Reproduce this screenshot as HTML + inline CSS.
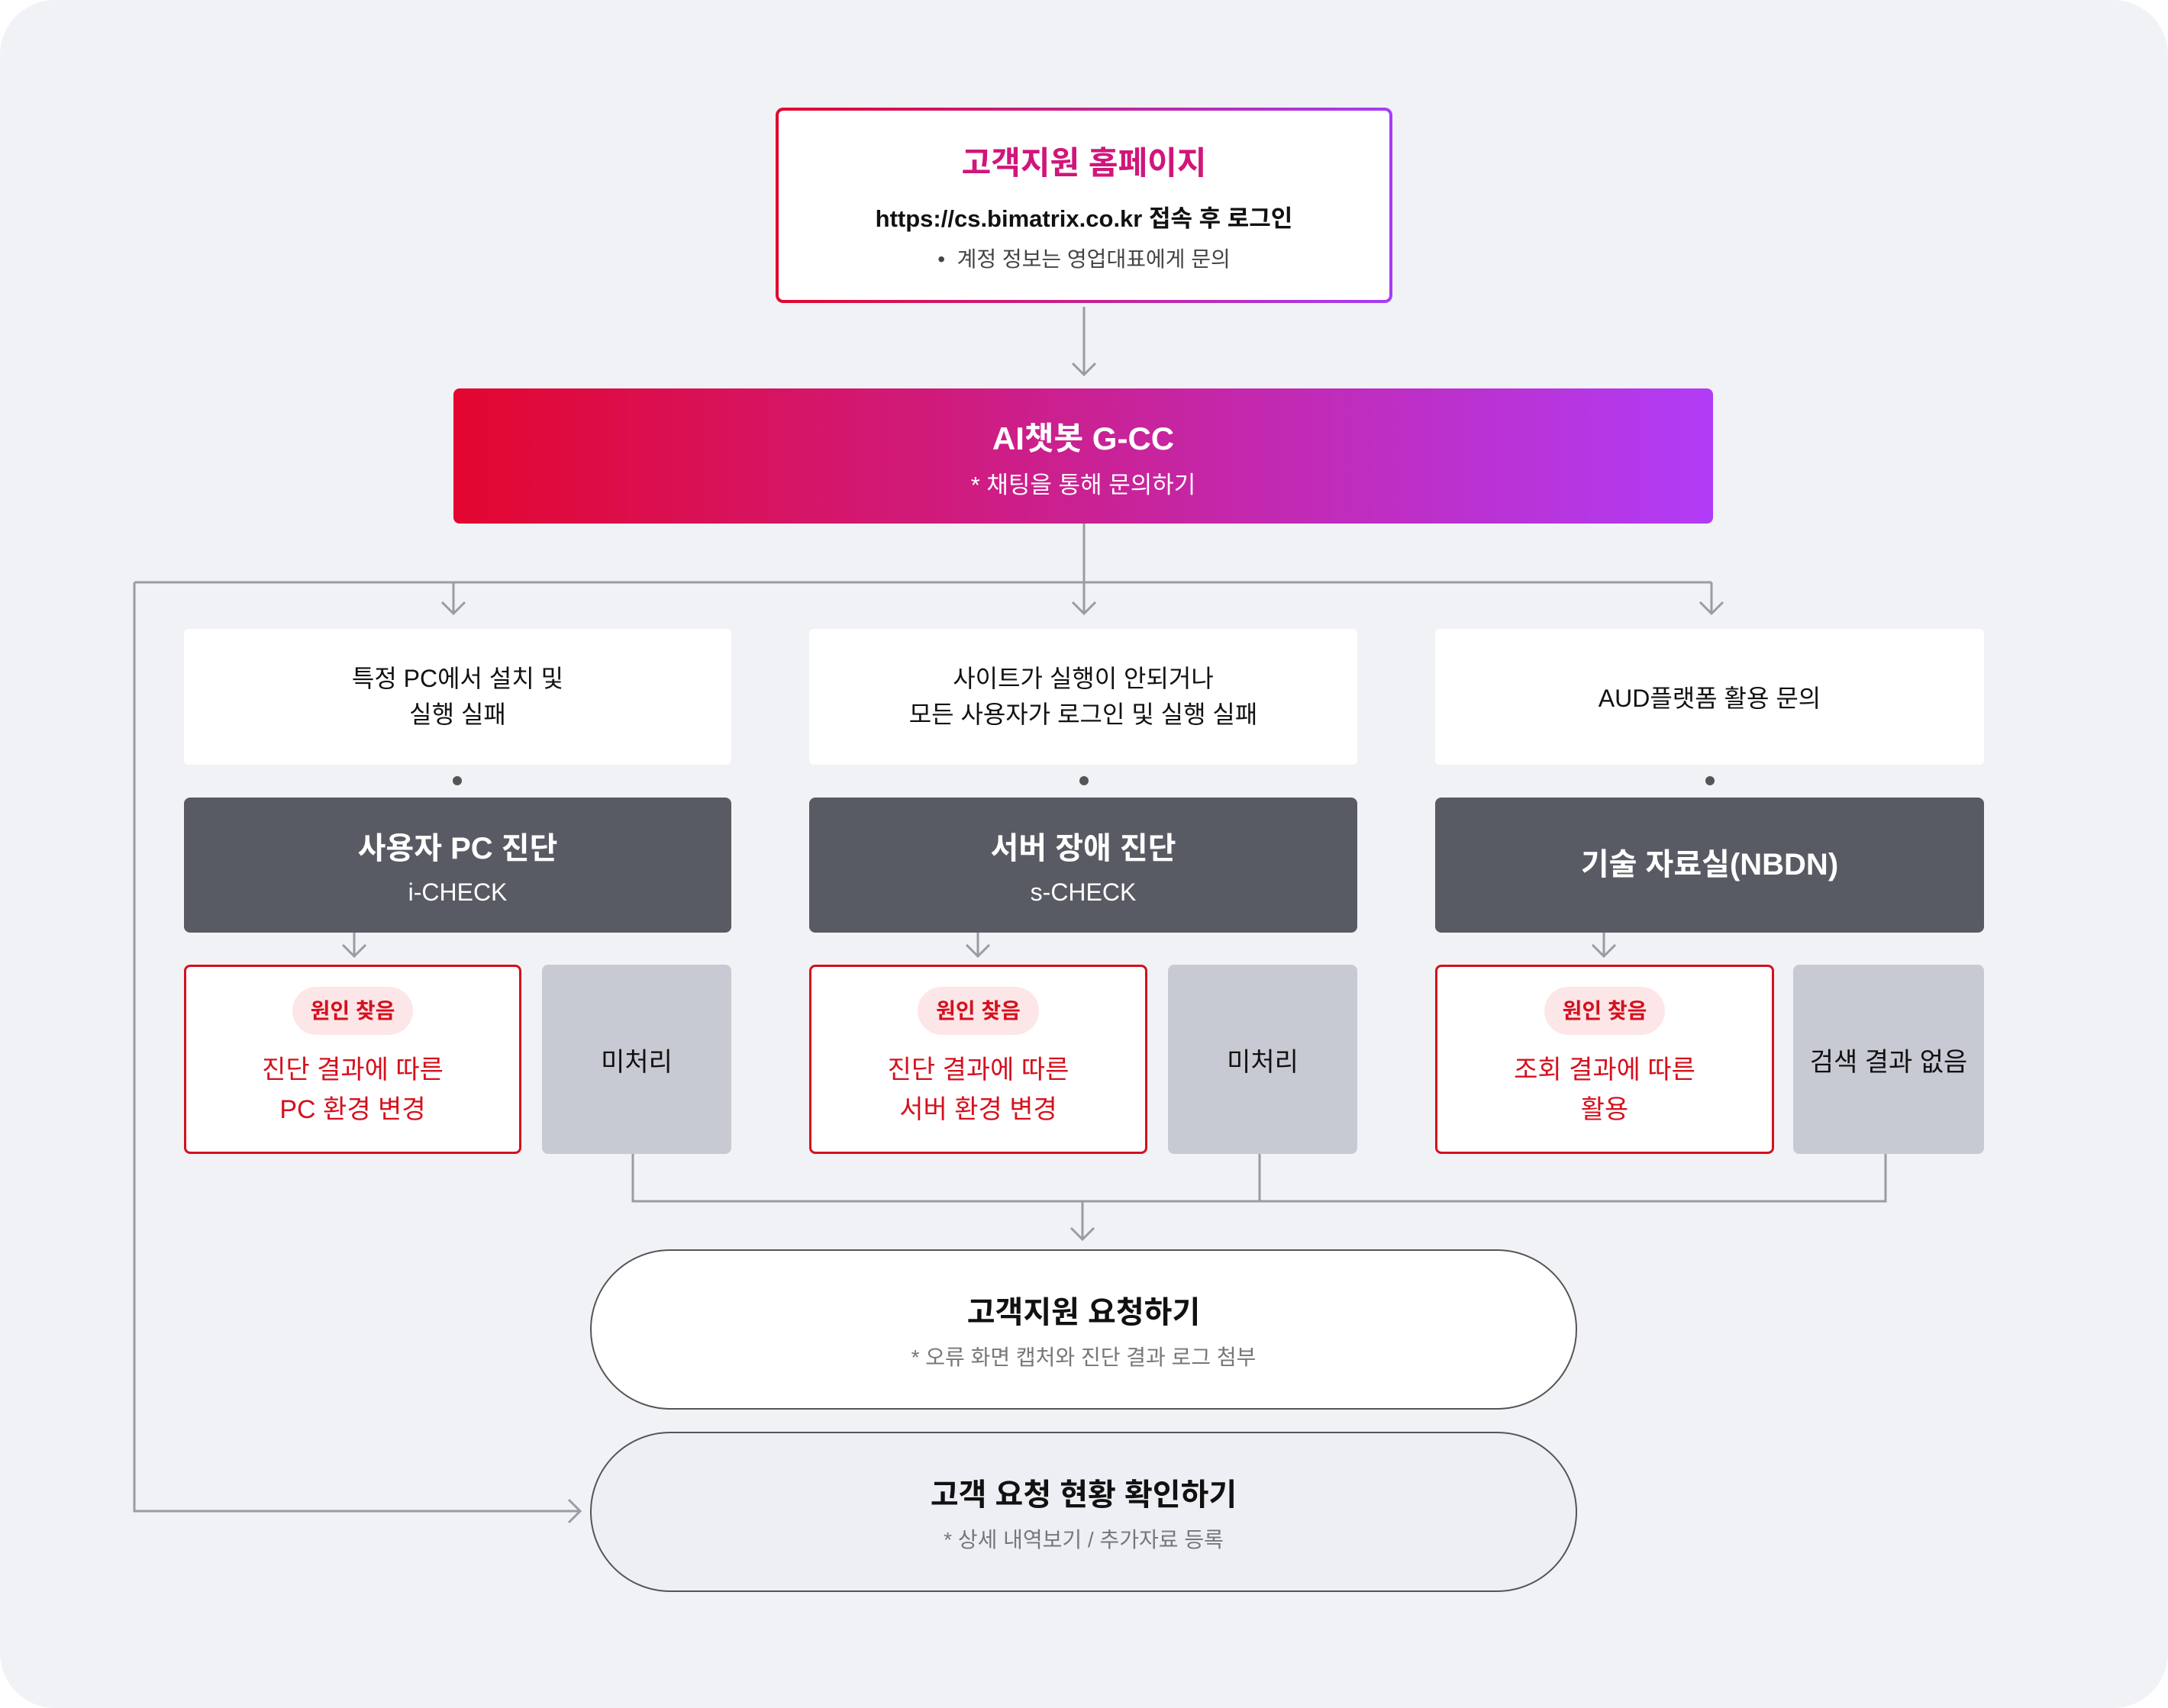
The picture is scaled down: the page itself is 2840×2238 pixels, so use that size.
<!DOCTYPE html>
<html><head><meta charset="utf-8"><style>
*{margin:0;padding:0;box-sizing:border-box}
body{width:2840px;height:2238px;background:#fff;font-family:"Liberation Sans","Noto Sans CJK KR",sans-serif;position:relative;overflow:hidden}
.bg{position:absolute;left:0;top:0;width:2840px;height:2238px;background:#f1f2f6;border-radius:72px}
.a{position:absolute;display:flex;flex-direction:column;align-items:center;justify-content:center;text-align:center}
svg{position:absolute;left:0;top:0}
</style></head><body>
<div class="bg"></div>
<svg width="2840" height="2238" fill="none" stroke="#9a9ca3" stroke-width="3">
<path d="M1420 402V491M1405 476l15 15 15-15"/>
<path d="M1420 686V804M176 763H2242M594 763V804M2242 763V804M1405 789l15 15 15-15M579 789l15 15 15-15M2227 789l15 15 15-15"/>
<path d="M176 763V1980H760M745 1965l15 15-15 15"/>
<path d="M464 1222V1253M449 1238l15 15 15-15M1281 1222V1253M1266 1238l15 15 15-15M2101 1222V1253M2086 1238l15 15 15-15"/>
<path d="M829 1512V1574H2470V1512M1650 1512V1574M1418 1574V1624M1403 1609l15 15 15-15"/>
<g fill="#555" stroke="none"><circle cx="599" cy="1023" r="6"/><circle cx="1420" cy="1023" r="6"/><circle cx="2240" cy="1023" r="6"/></g>
</svg>
<div class="a" style="left:1016px;top:141px;width:808px;height:256px;background:linear-gradient(#fff,#fff) padding-box,linear-gradient(90deg,#e3062c,#a63cf7) border-box;border:4px solid transparent;border-radius:10px">
<div style="font-size:42px;font-weight:bold;color:#d0167a;margin-top:0px">고객지원 홈페이지</div>
<div style="font-size:31px;font-weight:bold;color:#111;margin-top:20px">https://cs.bimatrix.co.kr 접속 후 로그인</div>
<div style="font-size:28px;color:#444;margin-top:12px">•&nbsp; 계정 정보는 영업대표에게 문의</div></div>
<div class="a" style="left:594px;top:509px;width:1650px;height:177px;background:linear-gradient(90deg,#e3062f,#b13cf7);border-radius:8px;color:#fff">
<div style="font-size:42px;font-weight:bold">AI챗봇 G-CC</div>
<div style="font-size:31px;margin-top:8px">* 채팅을 통해 문의하기</div></div>

<div class="a" style="left:241px;top:824px;width:717px;height:178px;background:#fff;border-radius:6px;font-size:32px;line-height:47px;color:#111">특정 PC에서 설치 및<br>실행 실패</div>
<div class="a" style="left:1060px;top:824px;width:718px;height:178px;background:#fff;border-radius:6px;font-size:32px;line-height:47px;color:#111">사이트가 실행이 안되거나<br>모든 사용자가 로그인 및 실행 실패</div>
<div class="a" style="left:1880px;top:824px;width:719px;height:178px;background:#fff;border-radius:6px;font-size:32px;color:#111">AUD플랫폼 활용 문의</div>

<div class="a" style="left:241px;top:1045px;width:717px;height:177px;background:#585b63;border-radius:8px;color:#fff"><div style="font-size:40px;font-weight:bold">사용자 PC 진단</div><div style="font-size:32px;margin-top:14px">i-CHECK</div></div>
<div class="a" style="left:1060px;top:1045px;width:718px;height:177px;background:#585b63;border-radius:8px;color:#fff"><div style="font-size:40px;font-weight:bold">서버 장애 진단</div><div style="font-size:32px;margin-top:14px">s-CHECK</div></div>
<div class="a" style="left:1880px;top:1045px;width:719px;height:177px;background:#585b63;border-radius:8px;color:#fff"><div style="font-size:40px;font-weight:bold;margin-top:-10px">기술 자료실(NBDN)</div></div>

<div class="a" style="left:241px;top:1264px;width:442px;height:248px;background:#fff;border:3px solid #d4111e;border-radius:8px;color:#d4111e"><div style="background:#fde6e8;border-radius:32px;padding:0 24px;height:63px;line-height:63px;font-size:28px;font-weight:bold;margin-top:-4px">원인 찾음</div><div style="font-size:34px;line-height:52px;margin-top:20px">진단 결과에 따른<br>PC 환경 변경</div></div>
<div class="a" style="left:1060px;top:1264px;width:443px;height:248px;background:#fff;border:3px solid #d4111e;border-radius:8px;color:#d4111e"><div style="background:#fde6e8;border-radius:32px;padding:0 24px;height:63px;line-height:63px;font-size:28px;font-weight:bold;margin-top:-4px">원인 찾음</div><div style="font-size:34px;line-height:52px;margin-top:20px">진단 결과에 따른<br>서버 환경 변경</div></div>
<div class="a" style="left:1880px;top:1264px;width:444px;height:248px;background:#fff;border:3px solid #d4111e;border-radius:8px;color:#d4111e"><div style="background:#fde6e8;border-radius:32px;padding:0 24px;height:63px;line-height:63px;font-size:28px;font-weight:bold;margin-top:-4px">원인 찾음</div><div style="font-size:34px;line-height:52px;margin-top:20px">조회 결과에 따른<br>활용</div></div>

<div class="a" style="left:710px;top:1264px;width:248px;height:248px;background:#c8cad3;border-radius:8px;font-size:34px;color:#111">미처리</div>
<div class="a" style="left:1530px;top:1264px;width:248px;height:248px;background:#c8cad3;border-radius:8px;font-size:34px;color:#111">미처리</div>
<div class="a" style="left:2349px;top:1264px;width:250px;height:248px;background:#c8cad3;border-radius:8px;font-size:34px;color:#111">검색 결과 없음</div>

<div class="a" style="left:773px;top:1637px;width:1293px;height:210px;background:#fff;border:2px solid #555;border-radius:105px"><div style="font-size:40px;font-weight:bold;color:#111">고객지원 요청하기</div><div style="font-size:28px;color:#777;margin-top:12px">* 오류 화면 캡처와 진단 결과 로그 첨부</div></div>
<div class="a" style="left:773px;top:1876px;width:1293px;height:210px;background:#eeeff4;border:2px solid #555;border-radius:105px"><div style="font-size:40px;font-weight:bold;color:#111">고객 요청 현황 확인하기</div><div style="font-size:28px;color:#777;margin-top:12px">* 상세 내역보기 / 추가자료 등록</div></div>
</body></html>
